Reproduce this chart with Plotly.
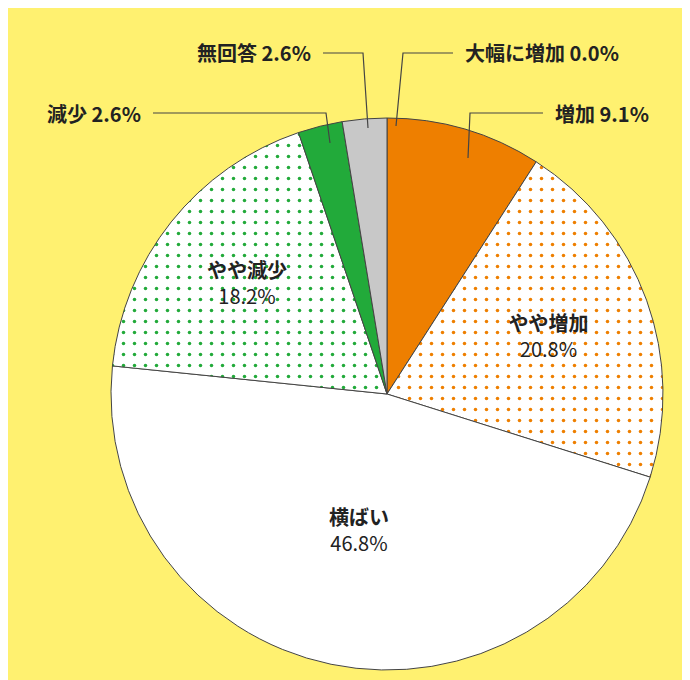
import plotly.graph_objects as go

labels = ['大幅に増加', '増加', 'やや増加', '横ばい', 'やや減少', '減少', '無回答']
values = [0.0, 9.1, 20.8, 46.8, 18.2, 2.6, 2.6]
colors = ['#EE7F00', '#EE7F00', '#FFFFFF', '#FFFFFF', '#FFFFFF', '#22AA3A', '#C8C8C8']
pattern_shapes = ['', '', '.', '', '.', '', '']
pattern_fg = ['#EE7F00', '#EE7F00', '#EE7F00', '#FFFFFF', '#22AA3A', '#22AA3A', '#C8C8C8']
inside = [False, False, True, True, True, False, False]

W, H = 690, 680
FONT = 'Noto Sans CJK JP'

texts = ['<b>%s</b><br>%.1f%%' % (l, v) if i else '' for l, v, i in zip(labels, values, inside)]

fig = go.Figure()
fig.add_trace(go.Pie(
    labels=labels,
    values=values,
    sort=False,
    direction='clockwise',
    rotation=0,
    text=texts,
    textinfo='text',
    textposition='inside',
    insidetextorientation='horizontal',
    textfont=dict(family=FONT, size=20, color='#222222'),
    marker=dict(colors=colors, line=dict(color='#444444', width=1),
                pattern=dict(shape=pattern_shapes, fgcolor=pattern_fg, bgcolor='#FFFFFF',
                             size=11, solidity=0.08)),
    domain=dict(x=[103 / W, 655 / W], y=[1 - 662 / H, 1 - 110 / H]),
    showlegend=False,
    hoverinfo='label+value',
))

# outside labels with elbow leader lines (pixel coords)
outer = [
    ('<b>大幅に増加 %.1f%%</b>' % values[0], 455, 45, 'left', [(445, 45), (395, 45), (388, 118)]),
    ('<b>増加 %.1f%%</b>' % values[1], 545, 105, 'left', [(535, 105), (462, 105), (460, 150)]),
    ('<b>無回答 %.1f%%</b>' % values[6], 305, 45, 'right', [(315, 45), (355, 45), (360, 120)]),
    ('<b>減少 %.1f%%</b>' % values[5], 135, 105, 'right', [(145, 105), (318, 105), (322, 135)]),
]
for txt, x, y, anchor, pts in outer:
    fig.add_annotation(text=txt, x=x / W, y=1 - y / H, xref='paper', yref='paper',
                       xanchor=anchor, yanchor='middle', showarrow=False,
                       font=dict(family=FONT, size=20, color='#222222'))
    path = 'M %f,%f' % (pts[0][0] / W, 1 - pts[0][1] / H)
    for px, py in pts[1:]:
        path += ' L %f,%f' % (px / W, 1 - py / H)
    fig.add_shape(type='path', path=path, xref='paper', yref='paper',
                  line=dict(color='#444444', width=1.2))

fig.update_layout(width=W, height=H, margin=dict(l=0, r=0, t=0, b=0),
                  paper_bgcolor='#FFF170', plot_bgcolor='#FFF170')
fig.write_html('out.html')
